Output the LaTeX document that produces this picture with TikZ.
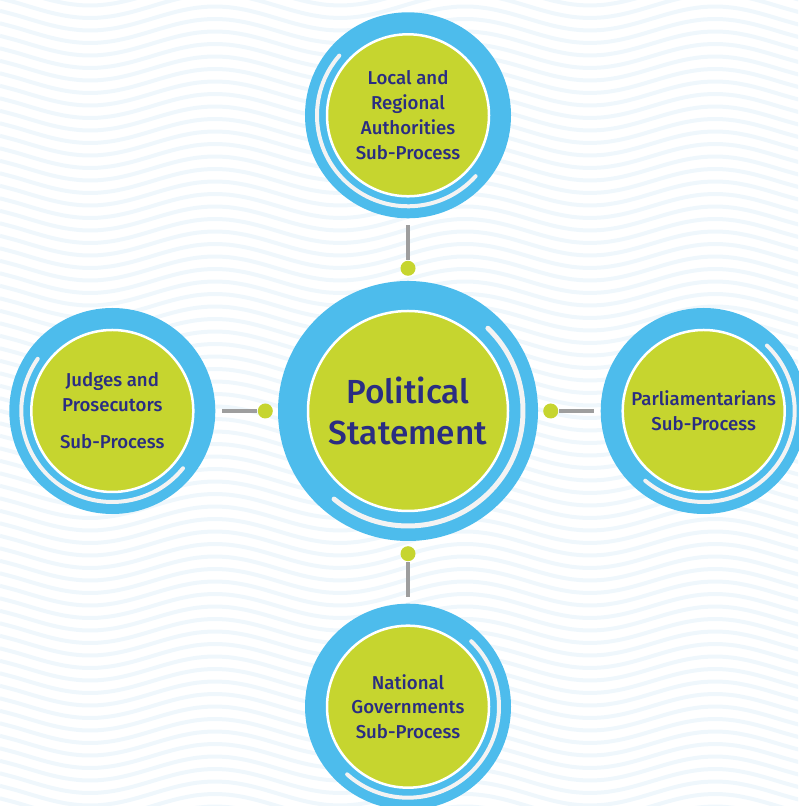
\documentclass[tikz,border=0pt]{standalone}
\usepackage{fontspec}
\setmainfont{Fira Sans}[UprightFont={* Medium}]
\usetikzlibrary{positioning}
\definecolor{ringblue}{RGB}{77,188,236}
\definecolor{coregreen}{RGB}{198,213,47}
\definecolor{inkblue}{RGB}{42,45,130}
\definecolor{gleamgrey}{RGB}{243,243,243}
\definecolor{linkgrey}{RGB}{158,158,158}
\definecolor{wavetint}{RGB}{239,247,252}
\begin{document}
\begin{tikzpicture}[
    ring/.style={shape=circle, fill=ringblue, inner sep=0pt, minimum size=4.12cm},
    bigring/.style={ring, minimum size=5.2cm},
    core/.style={shape=circle, fill=coregreen, draw=white, line width=0.05cm, inner sep=0pt,
      minimum size=3.24cm, text=inkblue, align=center, font=\fontsize{10.6}{14.2}\selectfont},
    bigcore/.style={core, minimum size=4cm, font=\fontsize{19}{23.8}\selectfont},
    gleam/.style={draw=gleamgrey, line width=0.08cm, line cap=round},
    dot/.style={shape=circle, fill=coregreen, inner sep=0pt, minimum size=0.3cm},
    link/.style={draw=linkgrey, line width=0.065cm, shorten <=0.13cm},
    wave/.style={draw=wavetint, line width=0.08cm},
    node distance=1.24cm
  ]
  \useasboundingbox (0,0) rectangle (15.96,16.12);

  % wavy backdrop
  \begin{scope}
    \clip (0,0) rectangle (15.96,16.12);
    \foreach \k in {-2,...,66}
      \draw[wave] plot[domain=0:16, samples=50, smooth] (\x, {\k*0.25+0.24*sin((\x-3.05)*72)});
  \end{scope}

  % blue rings
  \node[bigring] (hub) at (8.16,7.9) {};
  \node[ring, above=of hub] (local) {};
  \node[ring, left=of hub] (judges) {};
  \node[ring, right=of hub] (parl) {};
  \node[ring, below=of hub] (natgov) {};

  % light arcs
  \draw[gleam, line width=0.1cm] (hub.center) ++(46:2.3) arc[start angle=46, end angle=-130, radius=2.3];
  \draw[gleam] (local.center) ++(139:1.82) arc[start angle=139, end angle=318, radius=1.82];
  \draw[gleam] (judges.center) ++(145:1.82) arc[start angle=145, end angle=321, radius=1.82];
  \draw[gleam] (parl.center) ++(46:1.82) arc[start angle=46, end angle=-130, radius=1.82];
  \draw[gleam] (natgov.center) ++(46:1.82) arc[start angle=46, end angle=-132, radius=1.82];

  % green cores
  \node[bigcore] (hubcore) at (hub) {Political\\Statement};
  \node[core] (localcore) at (local) {Local and\\Regional\\Authorities\\Sub-Process};
  \node[core] (judgescore) at (judges) {Judges and\\Prosecutors\\[7pt]Sub-Process};
  \node[core] (parlcore) at (parl) {Parliamentarians\\Sub-Process};
  \node[core] (natgovcore) at (natgov) {National\\Governments\\Sub-Process};

  % connectors
  \node[dot, above=0.09cm of hub] (dotn) {};
  \node[dot, left=0.09cm of hub] (dotw) {};
  \node[dot, right=0.09cm of hub] (dote) {};
  \node[dot, below=0.09cm of hub] (dots) {};

  \draw[link] (local) -- (dotn);
  \draw[link] (judges) -- (dotw);
  \draw[link] (parl) -- (dote);
  \draw[link] (natgov) -- (dots);
\end{tikzpicture}
\end{document}
